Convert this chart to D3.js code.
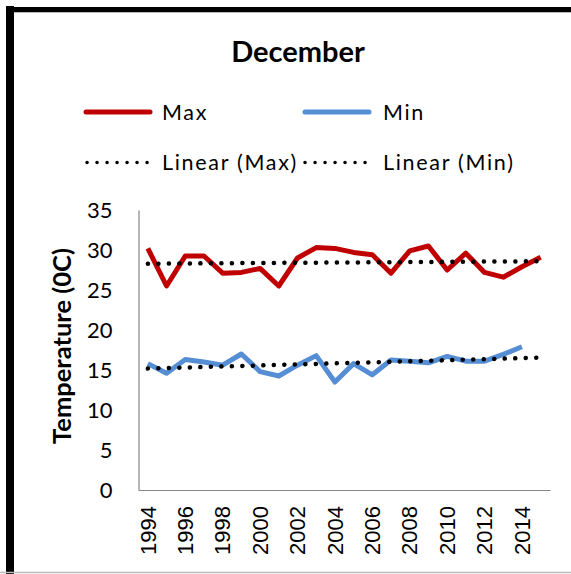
<!DOCTYPE html>
<html>
<head>
<meta charset="utf-8">
<script src="https://cdn.jsdelivr.net/npm/d3@7"></script>
<style>
html,body{margin:0;padding:0;background:#fff;}
svg{display:block;}
</style>
</head>
<body>
<svg id="chart" width="571" height="574"></svg>
<script>
const years = d3.range(1994, 2016);
const maxValues = [30.2,25.5,29.25,29.25,27.1,27.2,27.7,25.5,29.0,30.3,30.2,29.7,29.4,27.1,29.9,30.5,27.5,29.6,27.2,26.6,27.9,29.1];
const minValues = [15.8,14.6,16.3,16.0,15.6,17.0,14.8,14.25,15.6,16.8,13.5,15.8,14.4,16.25,16.1,15.9,16.7,16.1,16.1,16.95,17.9,null];
const yTicks = [0,5,10,15,20,25,30,35];
const xTickLabels = ["1994","1996","1998","2000","2002","2004","2006","2008","2010","2012","2014"];
const seriesNames = ["Max","Min","Linear (Max)","Linear (Min)"];
const titleText = "December";
const yAxisTitle = "Temperature (0C)";

const svg = d3.select("#chart");
const calibri = "Lato, 'Open Sans', sans-serif";

// frame
svg.append("rect").attr("x",6).attr("y",6).attr("width",8).attr("height",568).attr("fill","#000");
svg.append("rect").attr("x",6).attr("y",7).attr("width",565).attr("height",5).attr("fill","#000");
svg.append("line").attr("x1",14).attr("x2",571).attr("y1",12.5).attr("y2",12.5).attr("stroke","#bbb").attr("stroke-width",1);
svg.append("line").attr("x1",0).attr("x2",571).attr("y1",572.5).attr("y2",572.5).attr("stroke","#bbb").attr("stroke-width",1.5);

const x = d3.scaleBand().domain(years).range([138.5, 550]);
const cx = d => x(d) + x.bandwidth()/2;
const y = d3.scaleLinear().domain([0,35]).range([490, 210]);

// title
svg.append("text").attr("x",298).attr("y",62).attr("text-anchor","middle")
  .attr("font-family",calibri).attr("font-weight","bold").attr("font-size",29).attr("fill","#000").text(titleText);

// axes
const yAxis = d3.axisLeft(y).tickValues(yTicks).tickSize(0).tickPadding(26);
const gy = svg.append("g").attr("transform","translate(138.5,0)").call(yAxis);
gy.select(".domain").attr("stroke","#868686").attr("stroke-width",1.2);
gy.selectAll("text").attr("font-family",calibri).attr("font-size",22).attr("fill","#000").attr("dy","0.35em");

const xAxis = d3.axisBottom(x).tickValues(years.filter(d => xTickLabels.includes(String(d)))).tickSize(0).tickFormat(d => String(d));
const gx = svg.append("g").attr("transform","translate(0,490)").call(xAxis);
gx.select(".domain").attr("stroke","#868686").attr("stroke-width",1.2);
gx.selectAll("text").attr("font-family","'Liberation Sans', Arial, sans-serif").attr("font-size",22).attr("fill","#000")
  .attr("transform","rotate(-90)").attr("text-anchor","end").attr("x",-16).attr("y",0).attr("dy","0.35em");

// y axis title
svg.append("text").attr("transform","translate(71,346) rotate(-90)").attr("text-anchor","middle")
  .attr("font-family",calibri).attr("font-weight","bold").attr("font-size",25.5).attr("fill","#000").text(yAxisTitle);

// trend lines (least squares on category index)
function trend(vals, n){
  const pts = vals.map((v,i)=>[i,v]).filter(p=>p[1]!=null);
  const mx = d3.mean(pts,p=>p[0]), my = d3.mean(pts,p=>p[1]);
  const b = d3.sum(pts,p=>(p[0]-mx)*(p[1]-my))/d3.sum(pts,p=>(p[0]-mx)**2);
  const a = my - b*mx;
  return [[0,a],[n-1,a+b*(n-1)]];
}
const lineGen = d3.line().defined(d=>d[1]!=null).x(d=>cx(years[d[0]])).y(d=>y(d[1]));

const maxPts = maxValues.map((v,i)=>[i,v]);
const minPts = minValues.map((v,i)=>[i,v]);

svg.append("path").attr("d",lineGen(maxPts)).attr("fill","none").attr("stroke","#C00000").attr("stroke-width",5).attr("stroke-linejoin","round");
svg.append("path").attr("d",lineGen(minPts)).attr("fill","none").attr("stroke","#558ED5").attr("stroke-width",5).attr("stroke-linejoin","round");

[trend(maxValues, years.length), trend(minValues, years.length)].forEach(t=>{
  svg.append("path").attr("d",lineGen(t)).attr("fill","none").attr("stroke","#000")
    .attr("stroke-width",4.5).attr("stroke-linecap","round").attr("stroke-dasharray","0.1 10.4");
});

// legend
const leg = svg.append("g");
const legItems = [
  {name:seriesNames[0], x:86, y:112, color:"#C00000", dotted:false},
  {name:seriesNames[1], x:305, y:112, color:"#558ED5", dotted:false},
  {name:seriesNames[2], x:87, y:162.5, color:"#000", dotted:true},
  {name:seriesNames[3], x:305, y:162.5, color:"#000", dotted:true}
];
legItems.forEach(it=>{
  const l = leg.append("line").attr("y1",it.y).attr("y2",it.y).attr("stroke",it.color);
  if(it.dotted){ l.attr("x1",it.x).attr("x2",it.x+60.1).attr("stroke-width",3.5).attr("stroke-linecap","round").attr("stroke-dasharray","0.1 9.9"); }
  else { l.attr("x1",it.x).attr("x2",it.x+64).attr("stroke-width",5).attr("stroke-linecap","round"); }
  leg.append("text").attr("x", it.x < 200 ? 162 : 383).attr("y",it.y+7.5)
    .attr("font-family",calibri).attr("font-size",21.5).attr("letter-spacing",1.7).attr("fill","#000").text(it.name);
});
</script>
</body>
</html>
